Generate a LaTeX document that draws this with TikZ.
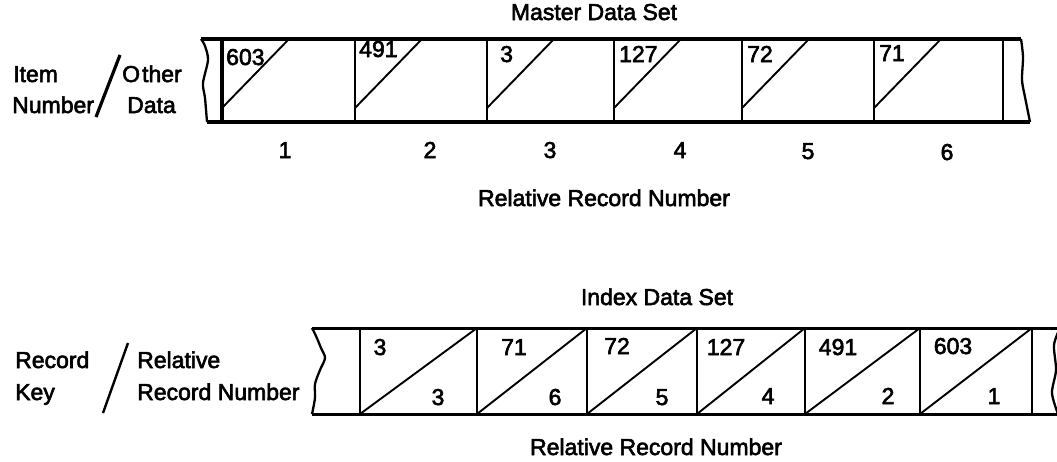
\documentclass[tikz,border=0pt]{standalone}
\usepackage{fontspec}
\setmainfont{Liberation Sans}
\newfontfamily\medfont[FakeBold=2.6]{Liberation Sans}
\begin{document}
\begin{tikzpicture}[x=1pt,y=-1pt,
  txt/.style={font=\fontsize{23}{27}\medfont, inner sep=0pt, anchor=base},
  txtw/.style={txt, anchor=base west},
  heavy/.style={line width=3.5pt},
  wall/.style={line width=2.3pt},
  diag/.style={line width=1.9pt}]
\useasboundingbox (0,0) rectangle (1057,461);
\clip (0,0) rectangle (1057,461);

% ---------- Master data set ----------
\node[txt] (mtitle) at (594,20) {Master Data Set};
\draw[heavy] (201,39) -- (1021,39);
\draw[heavy] (207,122) -- (1030,122);
\draw[wall] plot[smooth] coordinates {(201,39) (205,46) (208,60) (203,83) (205,98) (207,122)};
\draw[wall] plot[smooth] coordinates {(1021,39) (1023,57) (1022,80) (1025,97) (1030,122)};
\draw[heavy] (222,39) -- (222,122);
\foreach \x in {355,487,614,742,874,1003} \draw[wall] (\x,39) -- (\x,122);
\foreach \x in {222,355,487,614,742,874} \draw[diag] (\x,108) -- (\x+67,39);

\node[txtw] (m1) at (226,65) {603};
\node[txtw] (m2) at (359,57) {491};
\node[txtw] (m3) at (500,62) {3};
\node[txtw] (m4) at (619,62) {127};
\node[txtw] (m5) at (747,62) {72};
\node[txtw] (m6) at (879,61) {71};

\node[txt] (r1) at (285,158) {1};
\node[txt] (r2) at (430,158) {2};
\node[txt] (r3) at (550,158) {3};
\node[txt] (r4) at (680,158) {4};
\node[txt] (r5) at (808,159) {5};
\node[txt] (r6) at (947,160) {6};
\node[txt] (mrrn) at (604,206) {Relative Record Number};

\node[txtw] (item) at (13,82) {Item};
\node[txtw] (number) at (12,113) {Number};
\node[txtw] (other) at (122,82) {O\kern2pt ther};
\node[txtw] (data) at (127,113) {Data};
\draw[line width=3.2pt] (120,55) -- (96,117);

% ---------- Index data set ----------
\node[txt] (ititle) at (657,305) {Index Data Set};
\draw[line width=3pt] (312,328) -- (1060,328);
\draw[line width=3pt] (312,414) -- (1060,414);
\draw[wall] plot[smooth] coordinates {(312,328) (316,336) (321,348) (325,358) (320,370) (315,384) (315,398) (312,414)};
\draw[wall] plot[smooth] coordinates {(1060,328) (1054,345) (1056,370) (1052,393) (1058,414)};
\foreach \x in {360,477,587,697,805,920,1032} \draw[wall] (\x,328) -- (\x,414);
\foreach \l/\r in {360/477,477/587,587/697,697/805,805/920,920/1032} \draw[diag] (\l,414) -- (\r,328);

\node[txt] (k1) at (380,355) {3};
\node[txt] (k2) at (514,355) {71};
\node[txt] (k3) at (617,354) {72};
\node[txt] (k4) at (726,355) {127};
\node[txt] (k5) at (838,355) {491};
\node[txt] (k6) at (953,354) {603};
\node[txt] (n1) at (438,405) {3};
\node[txt] (n2) at (555,405) {6};
\node[txt] (n3) at (662,405) {5};
\node[txt] (n4) at (768,404) {4};
\node[txt] (n5) at (888,404) {2};
\node[txt] (n6) at (994,404) {1};
\node[txt] (irrn) at (656,455) {Relative Record Number};

\node[txtw] (record) at (15,368) {Record};
\node[txtw] (key) at (15,400) {Key};
\node[txtw] (rel) at (137,368) {Relative};
\node[txtw] (recnum) at (137,400) {Record Number};
\draw[line width=2.4pt] (128,343) -- (103,413);
\end{tikzpicture}
\end{document}
